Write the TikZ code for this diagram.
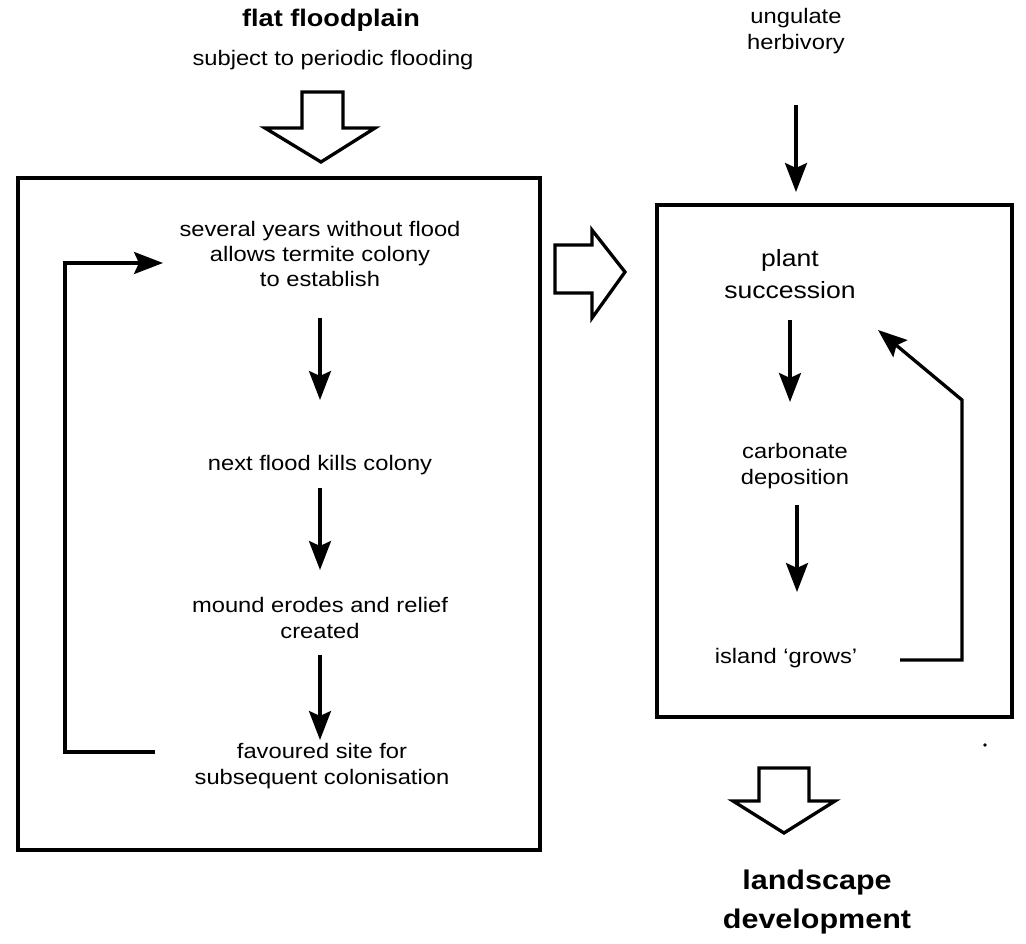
\documentclass[tikz,border=0pt]{standalone}
\usepackage{fontspec}
\setmainfont[FakeStretch=1.13]{Liberation Sans}
\usetikzlibrary{arrows.meta}
\begin{document}
\begin{tikzpicture}[x=1pt,y=-1pt,
  txt/.style={align=center,font=\fontsize{21}{25.3}\selectfont,inner sep=0pt},
  big/.style={align=center,font=\fontsize{23.5}{32}\selectfont,inner sep=0pt},
  head/.style={align=center,font=\bfseries\fontsize{24}{39}\selectfont,inner sep=0pt},
  head2/.style={align=center,font=\bfseries\fontsize{27}{39}\selectfont,inner sep=0pt},
  frame/.style={draw,line width=3.3pt},
  hollow/.style={draw,line width=3.3pt,line join=miter,fill=white},
  flow/.style={line width=3.3pt,-{Stealth[length=29pt,width=22pt,inset=5pt]}},
  loop/.style={line width=3.3pt,line join=miter,-{Stealth[length=29pt,width=22pt,inset=5pt]}}]
\useasboundingbox (0,0) rectangle (1026,944);
% top title
\node[head] (ff) at (331,20) {flat floodplain};
\node[txt] (sub) at (333,60) {subject to periodic flooding};
% hollow down arrow
\draw[hollow] (302,92) -- (343,92) -- (343,128) -- (375,128) -- (321,162) -- (265,128) -- (302,128) -- cycle;
% left box
\draw[frame] (18,178) rectangle (540,850);
\node[txt] (a1) at (320,254) {several years without flood\\allows termite colony\\to establish};
\node[txt] (a2) at (320,465) {next flood kills colony};
\node[txt] (a3) at (320,618) {mound erodes and relief\\created};
\node[txt] (a4) at (322,766) {favoured site for\\subsequent colonisation};
\coordinate (a1t) at (320,318);
\coordinate (a2t) at (320,488);
\coordinate (a3t) at (320,655);
\draw[flow] (a1t) -- (320,400);
\draw[flow] (a2t) -- (320,570);
\draw[flow] (a3t) -- (320,740);
\coordinate (l1) at (155,752);
\coordinate (l2) at (65,752);
\coordinate (l3) at (65,263);
\coordinate (l4) at (163,263);
\draw[loop] (l1) -- (l2) -- (l3) -- (l4);
% hollow right arrow
\draw[hollow] (555,245) -- (592,245) -- (592,230) -- (625,272) -- (592,318) -- (592,293) -- (555,293) -- cycle;
% right column
\node[txt] (ung) at (796,31) {ungulate\\herbivory};
\draw[flow] (796,105) -- (796,192);
\draw[frame] (657,205) rectangle (1012,717);
\node[big] (ps) at (790,274) {plant\\succession};
\draw[flow] (790,320) -- (790,402);
\node[txt] (cd) at (795,466) {carbonate\\deposition};
\draw[flow] (797,505) -- (797,592);
\node[txt] (ig) at (786,658) {island `grows'};
\coordinate (r1) at (900,660);
\coordinate (r2) at (962,660);
\coordinate (r3) at (962,400);
\coordinate (r4) at (878,330);
\draw[loop] (r1) -- (r2) -- (r3) -- (r4);
% hollow down arrow bottom
\draw[hollow] (759,768) -- (809,768) -- (809,801) -- (835,801) -- (784,833) -- (733,801) -- (759,801) -- cycle;
\node[head2] (ld) at (817,902) {landscape\\development};
\fill (985,745) circle (1.8pt);
\end{tikzpicture}
\end{document}
